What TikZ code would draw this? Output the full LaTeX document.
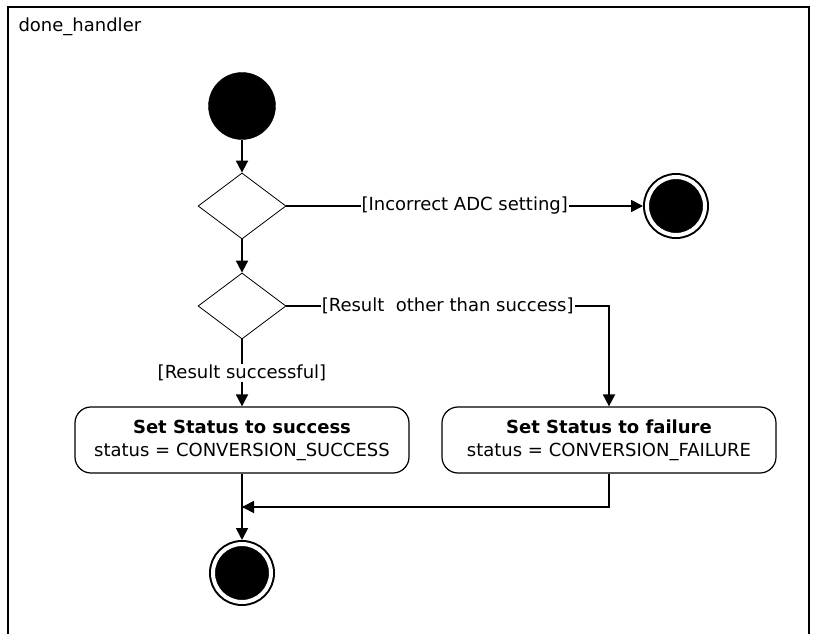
\documentclass[tikz,border=0pt]{standalone}
\usepackage{fontspec}
\setmainfont{DejaVu Sans}
\usetikzlibrary{shapes.geometric,arrows.meta}

\begin{document}
\begin{tikzpicture}[x=1pt, y=-1pt,
	font=\fontsize{18}{23}\selectfont,
	>={Triangle[length=12pt,width=12pt]},
	flow/.style={line width=1.8pt},
	guard/.style={fill=white, inner sep=1pt},
	decision/.style={draw = black, shape = diamond, line width=0.8pt,
					 minimum width=88pt, minimum height=66pt,
					 inner sep=0pt, aspect=1.33},
	action/.style={draw = black, shape = rectangle, rounded corners=16pt,
				   line width=1.2pt, minimum width=334pt,
				   minimum height=66pt, align=center},
	finalstate/.style={draw = black, shape = circle, fill = black,
					   line width=2pt, double = white,
					   double distance=4pt, minimum size=58pt,
					   inner sep=0pt, outer sep=4pt}]

	\useasboundingbox (0,0) rectangle (815,634);

	% frame of the activity
	\draw[line width=2pt] (8,645) -- (8,7) -- (809,7) -- (809,645);
	\draw (15,27) node[anchor = west] (title) {done\_handler};

	\draw (242,106) node[draw = black,
					 shape = circle,
					 fill = black,
					 minimum size = 67pt,
					 inner sep = 0pt] (start) {};

	\draw (242,206) node[decision] (check) {};
	\draw (676,206) node[finalstate] (abort) {};

	\draw (242,306) node[decision] (result) {};

	\draw (242,440) node[action] (success)
		{\textbf{Set Status to success}\\status = CONVERSION\_SUCCESS};
	\draw (609,440) node[action] (failure)
		{\textbf{Set Status to failure}\\status = CONVERSION\_FAILURE};

	\draw (242,573) node[finalstate] (done) {};

	\coordinate (merge) at (242,507);

	\draw[flow, ->] (start) -- (check);
	\draw[flow, ->] (check) -- node[guard] {[Incorrect ADC setting]} (abort);
	\draw[flow, ->] (check) -- (result);
	\draw[flow, ->] (result.east) -| node[guard, pos=0.25]
		{[Result\ \ other than success]} (failure.north);
	\draw[flow, ->] (result) -- node[guard] {[Result successful]} (success);
	\draw[flow] (failure.south) |- (merge);
	\draw[flow, <-] (merge) -- +(80,0);
	\draw[flow, ->] (success) -- (done);
\end{tikzpicture}
\end{document}
